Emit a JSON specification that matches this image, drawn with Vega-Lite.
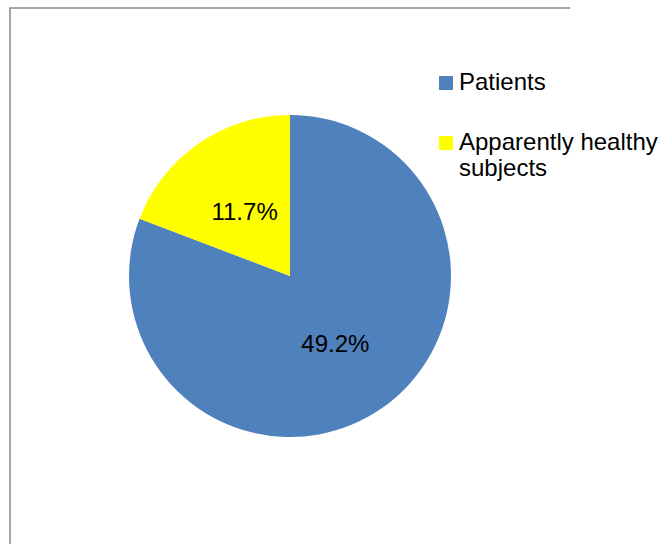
{
  "$schema": "https://vega.github.io/schema/vega-lite/v6.json",
  "width": 560,
  "height": 536,
  "autosize": {"type": "none"},
  "padding": {"left": 10, "top": 8, "right": 96, "bottom": 4},
  "background": "white",
  "view": {"stroke": "#8c8c8c", "strokeWidth": 1.5, "strokeDash": [560, 1096, 536]},
  "config": {
    "font": "Liberation Sans"
  },
  "data": {
    "values": [
      {"group": "Patients", "value": 49.2, "label": "49.2%"},
      {"group": "Apparently healthy subjects", "value": 11.7, "label": "11.7%"}
    ]
  },
  "encoding": {
    "theta": {"field": "value", "type": "quantitative", "stack": true},
    "order": {"field": "value", "type": "quantitative", "sort": "descending"}
  },
  "layer": [
    {
      "mark": {"type": "arc", "outerRadius": 161},
      "encoding": {
        "color": {
          "field": "group",
          "type": "nominal",
          "scale": {"domain": ["Patients", "Apparently healthy subjects"], "range": ["#4F81BD", "#FFFF00"]},
          "legend": {
            "title": null,
            "orient": "none",
            "legendX": 424,
            "legendY": 63,
            "padding": 0,
            "symbolType": "square",
            "symbolSize": 196,
            "symbolStrokeWidth": 0,
            "labelFontSize": 24,
            "labelFont": "Liberation Sans",
            "labelColor": "black",
            "labelOffset": 1,
            "labelLimit": 400,
            "labelLineHeight": 27,
            "labelBaseline": "middle",
            "rowPadding": 36,
            "labelExpr": "datum.label == 'Apparently healthy subjects' ? ['Apparently healthy', 'subjects'] : datum.label"
          }
        }
      }
    },
    {
      "mark": {"type": "text", "radius": 80, "dy": 3, "fontSize": 24, "font": "Liberation Sans", "color": "black"},
      "encoding": {
        "text": {"field": "label", "type": "nominal"}
      }
    }
  ]
}
